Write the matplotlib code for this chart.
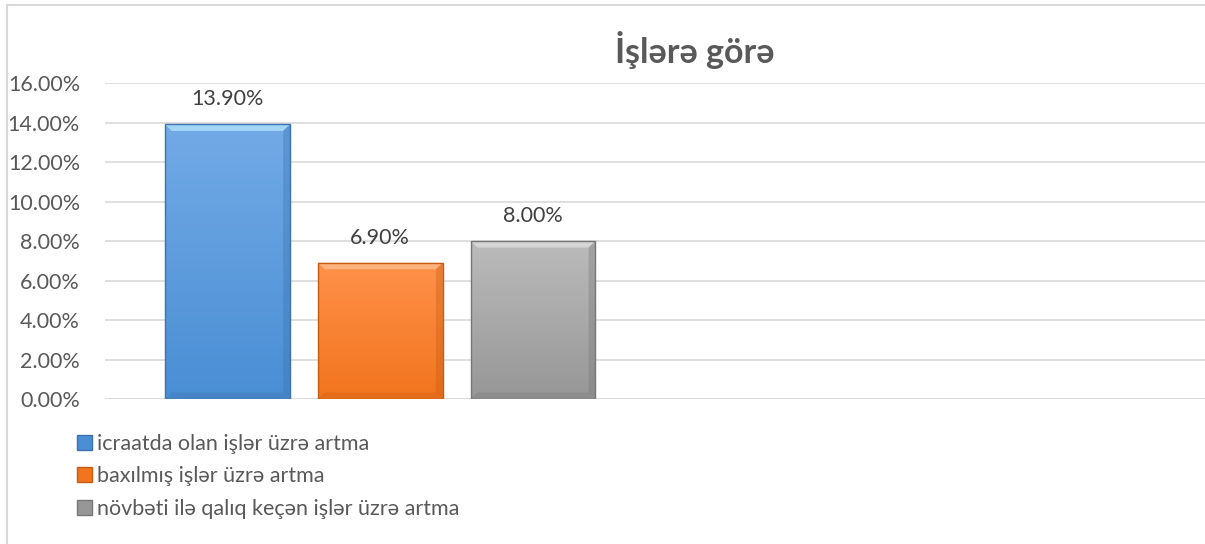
import matplotlib.pyplot as plt
import numpy as np
from matplotlib.patches import Rectangle, Polygon
from matplotlib.colors import LinearSegmentedColormap

plt.rcParams['font.family'] = ['Lato', 'DejaVu Sans']

title = "İşlərə görə"
series = ["icraatda olan işlər üzrə artma",
          "baxılmış işlər üzrə artma",
          "növbəti ilə qalıq keçən işlər üzrə artma"]
values = [13.9, 6.9, 8.0]
yticks = [0, 2, 4, 6, 8, 10, 12, 14, 16]

# gradient colours per bar (top, bottom), edge and top bevel highlight
tops = ["#72AAE6", "#FF914A", "#BBBBBB"]
bottoms = ["#4A8ED4", "#F2741E", "#979797"]
edges = ["#3B72AC", "#C45C14", "#767676"]
lights = ["#A9DCF8", "#FFB784", "#DADADA"]

fig = plt.figure(figsize=(12.05, 5.44), dpi=100)
# chart frame (only top and left edges are inside the picture)
fig.add_artist(plt.Line2D([0.0055, 0.0055], [0, 0.99], transform=fig.transFigure,
                          color="#D9D9D9", linewidth=1.5))
fig.add_artist(plt.Line2D([0.0055, 1], [0.99, 0.99], transform=fig.transFigure,
                          color="#D9D9D9", linewidth=1.5))

ax = fig.add_axes([0.0871, 0.2665, 0.9129, 0.5809])
ax.set_xlim(-0.802, 6.399)
ax.set_ylim(0, 16)

x = np.arange(len(values))
w = 0.818
bars = ax.bar(x, values, width=w, color="none", edgecolor="none", zorder=3)
bev_x = 0.045
bev_y = 0.33
for b, t, bt, e, lt in zip(bars, tops, bottoms, edges, lights):
    cmap = LinearSegmentedColormap.from_list("g", [bt, t])
    grad = np.linspace(0, 1, 100).reshape(-1, 1)
    x0, y0 = b.get_x(), b.get_y()
    x1, y1 = x0 + b.get_width(), y0 + b.get_height()
    im = ax.imshow(grad, cmap=cmap, aspect="auto", origin="lower",
                   extent=[x0, x1, y0, y1], zorder=3)
    im.set_clip_path(b)
    # bevel: light top, darker right side and bottom
    ax.add_patch(Polygon([(x0, y1), (x1, y1), (x1 - bev_x, y1 - bev_y), (x0 + bev_x, y1 - bev_y)],
                         closed=True, facecolor=lt, edgecolor="none", alpha=0.9, zorder=4))
    ax.add_patch(Polygon([(x1, y1), (x1, y0), (x1 - bev_x, y0 + bev_y), (x1 - bev_x, y1 - bev_y)],
                         closed=True, facecolor=e, edgecolor="none", alpha=0.35, zorder=4))
    ax.add_patch(Polygon([(x0, y0), (x1, y0), (x1 - bev_x, y0 + bev_y), (x0 + bev_x, y0 + bev_y)],
                         closed=True, facecolor=e, edgecolor="none", alpha=0.3, zorder=4))
    ax.add_patch(Rectangle((x0, y0), b.get_width(), b.get_height(), fill=False,
                           edgecolor=e, linewidth=1.0, zorder=5))
    ax.annotate(f"{b.get_height():.2f}%", (b.get_x() + b.get_width() / 2, b.get_height()),
                xytext=(0, 18), textcoords="offset points", ha="center", va="center",
                fontsize=15.5, color="#404040", zorder=6)

ax.set_yticks(yticks)
ax.set_yticklabels([f"{v:.2f}%" for v in yticks], fontsize=15.5, color="#595959")
ax.set_xticks([])
ax.grid(axis="y", color="#D9D9D9", linewidth=1.2, zorder=0)
ax.tick_params(axis="y", length=0, pad=18)
for s in ax.spines.values():
    s.set_visible(False)
ax.axhline(0, color="#D9D9D9", linewidth=1.2, zorder=1)

fig.text(0.5763, 0.884, title, ha="center", va="baseline", fontsize=24.5, fontweight="bold",
         color="#595959")

handles = [Rectangle((0, 0), 1, 1, facecolor=c, edgecolor=e) for c, e in zip(bottoms, edges)]
fig.legend(handles, series, loc="upper left", bbox_to_anchor=(0.0639, 0.2026), frameon=False,
           fontsize=15.5, labelcolor="#595959", handlelength=0.7, handleheight=0.7,
           handletextpad=0.25, labelspacing=0.58, borderaxespad=0, borderpad=0)

fig.savefig("out.png", dpi=100)
